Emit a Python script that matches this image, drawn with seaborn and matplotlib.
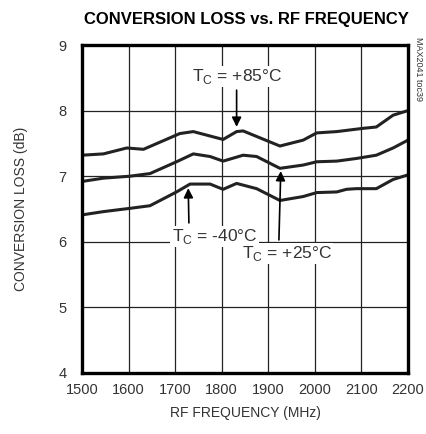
import seaborn as sns
import matplotlib.pyplot as plt
import pandas as pd
import numpy as np

sns.set_style('white')
plt.rcParams['font.family'] = ['Liberation Sans', 'DejaVu Sans']

freq_85 = [1500, 1546, 1596, 1632, 1710, 1739, 1803, 1832, 1846, 1925, 1975, 2004, 2047, 2104, 2132, 2168, 2200]
loss_85 = [7.32, 7.34, 7.43, 7.41, 7.65, 7.68, 7.56, 7.68, 7.69, 7.46, 7.55, 7.66, 7.68, 7.73, 7.75, 7.93, 8.0]

freq_25 = [1500, 1546, 1603, 1646, 1703, 1739, 1775, 1803, 1846, 1875, 1925, 1975, 2004, 2047, 2089, 2132, 2168, 2200]
loss_25 = [6.92, 6.97, 7.0, 7.04, 7.22, 7.34, 7.30, 7.23, 7.32, 7.30, 7.12, 7.17, 7.22, 7.23, 7.27, 7.32, 7.43, 7.55]

freq_m40 = [1500, 1546, 1603, 1646, 1703, 1732, 1775, 1803, 1832, 1875, 1925, 1975, 2004, 2047, 2068, 2089, 2132, 2168, 2200]
loss_m40 = [6.41, 6.46, 6.51, 6.55, 6.76, 6.88, 6.88, 6.80, 6.89, 6.81, 6.63, 6.69, 6.75, 6.76, 6.80, 6.81, 6.81, 6.95, 7.02]

df = pd.concat([
    pd.DataFrame({'freq': freq_85, 'loss': loss_85, 'temp': '+85'}),
    pd.DataFrame({'freq': freq_25, 'loss': loss_25, 'temp': '+25'}),
    pd.DataFrame({'freq': freq_m40, 'loss': loss_m40, 'temp': '-40'}),
])

fig = plt.figure(figsize=(4.26, 4.34), dpi=100)
ax = fig.add_axes([0.1925, 0.1406, 0.7652, 0.7557])

sns.lineplot(data=df, x='freq', y='loss', units='temp', estimator=None,
             color='#222222', linewidth=2.2, ax=ax, legend=False,
             solid_joinstyle='round', solid_capstyle='round')

ax.set_xlim(1500, 2200)
ax.set_ylim(4, 9)
ax.set_xticks(np.arange(1500, 2201, 100))
ax.set_yticks(np.arange(4, 10, 1))
ax.grid(True, color='#222222', linewidth=0.9)
for s in ax.spines.values():
    s.set_color('black')
    s.set_linewidth(2.4)
ax.tick_params(length=0, labelsize=10.5, colors='#333333')
ax.tick_params(axis='y', pad=11)
ax.tick_params(axis='x', pad=7)

ax.set_xlabel('RF FREQUENCY (MHz)', fontsize=10, color='#333333', labelpad=7)
ax.set_ylabel('CONVERSION LOSS (dB)', fontsize=10, color='#333333', labelpad=22)
fig.text(0.578, 0.955, 'CONVERSION LOSS vs. RF FREQUENCY', ha='center', va='center',
         fontsize=12, fontweight='bold', color='black')
fig.text(0.982, 0.84, 'MAX2041 toc39', rotation=270, ha='center', va='center',
         fontsize=6.5, color='#333333')

# temperature labels with arrows
arrow = dict(arrowstyle='-|>', color='black', lw=1.2, mutation_scale=14)
box = dict(facecolor='white', edgecolor='none', pad=1)
ax.annotate('T$_\\mathregular{C}$ = +85°C', xy=(1832, 7.71), xytext=(1832, 8.52),
            ha='center', va='center', fontsize=12.5, color='#333333',
            arrowprops=arrow, bbox=box)
ax.annotate('T$_\\mathregular{C}$ = -40°C', xy=(1728, 6.86), xytext=(1785, 6.08),
            ha='center', va='center', fontsize=12.5, color='#333333',
            arrowprops=dict(arrow, relpos=(0.2, 1.0)), bbox=box)
ax.annotate('T$_\\mathregular{C}$ = +25°C', xy=(1927, 7.12), xytext=(1940, 5.82),
            ha='center', va='center', fontsize=12.5, color='#333333',
            arrowprops=dict(arrow, relpos=(0.41, 1.0)), bbox=box)

fig.savefig('out.png', dpi=100)
